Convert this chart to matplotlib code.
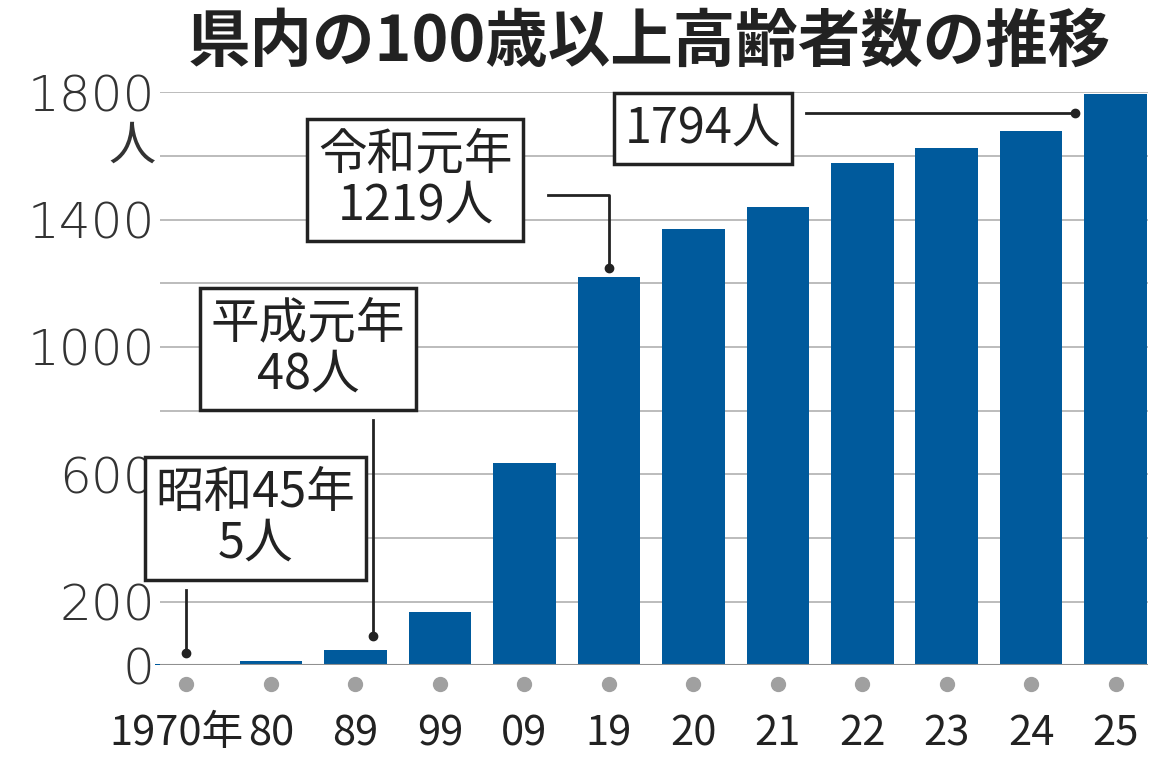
import matplotlib
matplotlib.use("Agg")
import matplotlib.pyplot as plt

plt.rcParams['font.family'] = ['Noto Sans CJK JP']

# data
years = ['1970年', '80', '89', '99', '09', '19', '20', '21', '22', '23', '24', '25']
counts = [5, 13, 48, 166, 636, 1219, 1370, 1439, 1577, 1624, 1677, 1794]
yticks = [0, 200, 600, 1000, 1400, 1800]

blue = '#005a9c'
fig = plt.figure(figsize=(11.7, 7.63), dpi=100)
ax = fig.add_axes([0.137, 0.128, 0.844, 0.751])
x = list(range(len(years)))
ax.bar(x, counts, width=0.74, color=blue, zorder=3, clip_on=False)
ax.set_xlim(-0.31, 11.38)
ax.set_ylim(0, 1800)
for g in range(200, 1801, 200):
    ax.axhline(g, color='#b0b0b0', lw=1.2, zorder=1)
ax.axhline(0, color='#909090', lw=1.5, zorder=4)
for s in ax.spines.values():
    s.set_visible(False)
ax.tick_params(length=0)
ax.set_yticks(yticks)
ax.set_yticklabels([str(v) for v in yticks], fontsize=36, color='#333333',
                   fontfamily=['DejaVu Sans'], fontweight='light')
ax.tick_params(axis='y', pad=4)
ax.set_xticks([])
for i, lab in enumerate(years):
    ax.plot(i, -58, 'o', ms=10, color='#a0a0a0', clip_on=False)
    xx = i - 0.12 if i == 0 else i
    ax.text(xx, -215, lab, ha='center', va='center', fontsize=30,
            color='#222222', clip_on=False)
ax.text(-0.37, 1630, '人', ha='right', va='center', fontsize=34, color='#333333')

fig.text(0.555, 0.945, '県内の100歳以上高齢者数の推移', ha='center', va='center',
         fontsize=45, fontweight='bold', color='#222222')

box = dict(boxstyle='square,pad=0.22', fc='white', ec='#222222', lw=2.5)
kw = dict(ha='center', va='center', fontsize=35, linespacing=1.05, bbox=box, zorder=6,
          color='#222222')
ax.text(0.82, 461, '昭和45年\n5人', **kw)
ax.text(1.44, 994, '平成元年\n48人', **kw)
ax.text(2.71, 1524, '令和元年\n1219人', **kw)
ax.text(6.11, 1685, '1794人', **kw)

lk = dict(color='#222222', lw=2, zorder=5, clip_on=False)
ax.plot([0, 0], [238, 40], **lk)
ax.plot(0, 40, 'o', ms=6, color='#222222', zorder=5)
ax.plot([2.21, 2.21], [771, 91], **lk)
ax.plot(2.21, 91, 'o', ms=6, color='#222222', zorder=5)
ax.plot([4.28, 5.0, 5.0], [1476, 1476, 1248], **lk)
ax.plot(5.0, 1248, 'o', ms=6, color='#222222', zorder=5)
ax.plot([7.33, 10.52], [1734, 1734], **lk)
ax.plot(10.52, 1734, 'o', ms=6, color='#222222', zorder=5)

fig.savefig('out.png', dpi=100)
